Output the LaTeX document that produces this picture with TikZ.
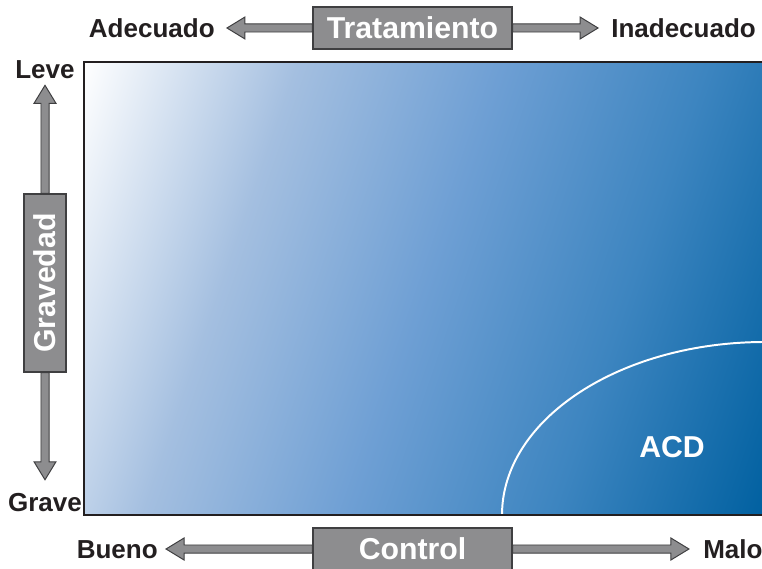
\documentclass[tikz,border=0pt]{standalone}
\usepackage{fontspec}
\setmainfont{Liberation Sans}
\usetikzlibrary{calc}
\definecolor{boxgray}{HTML}{8D8D8F}
\definecolor{edgegray}{HTML}{3F3F41}
\definecolor{inkblack}{HTML}{231F20}
\definecolor{bgA}{HTML}{A4BFE0}
\definecolor{bgB}{HTML}{6E9FD4}
\definecolor{bgC}{HTML}{3D85C0}
\definecolor{bgD}{HTML}{0060A0}
\pgfdeclarehorizontalshading{acdfield}{100bp}{color(0bp)=(white); color(18.3bp)=(white); color(34.5bp)=(bgA); color(50bp)=(bgB); color(65.5bp)=(bgC); color(81.7bp)=(bgD); color(100bp)=(bgD)}
\tikzset{
    axisbox/.style={draw=edgegray, fill=boxgray, line width=0.8pt, text=white, font=\fontsize{21.5}{24}\selectfont\bfseries, minimum width=141.5pt, minimum height=29.9pt, inner sep=0pt},
    axislabel/.style={text=inkblack, font=\fontsize{18.5}{22}\selectfont\bfseries, inner sep=0pt, text height=13.2pt, text depth=0pt},
    fatarrow/.style={draw=edgegray, fill=boxgray, line width=0.7pt, line join=miter}
}

\begin{document}
\begin{tikzpicture}[x=0.025cm, y=-0.025cm]
\def\shaft{2.85pt}   % half width of shaft
\def\head{7.8pt}     % half width of head
\def\headlen{12.8pt} % length of head
\def\fatarrow#1#2#3{% from, to, gap
\coordinate (fa tip) at ($(#2)!#3!(#1)$);
\coordinate (fa neck) at ($(fa tip)!\headlen!(#1)$);
\draw[fatarrow] ($(#1)!\shaft!90:(fa tip)$) -- ($(fa neck)!\shaft!90:(fa tip)$) -- ($(fa neck)!\head!90:(fa tip)$) -- (fa tip) -- ($(fa neck)!\head!-90:(fa tip)$) -- ($(fa neck)!\shaft!-90:(fa tip)$) -- ($(#1)!\shaft!-90:(fa tip)$) -- cycle;
}
\useasboundingbox (0,0) rectangle (762,569);
% field
\shade[shading=acdfield, shading angle=-19] (84,62) rectangle (766,515);
\begin{scope}
\clip (84,62) rectangle (766,515);
\draw[white, line width=1.4pt] (765,515) ellipse [x radius=263, y radius=173];
\end{scope}
\draw[inkblack, line width=1.6pt] (84,62) rectangle (766,515);
\node[text=white, font=\fontsize{21.5}{24}\selectfont\bfseries] (acd) at (672,447) {ACD};
% axis boxes
\node[axisbox] (trat) at (412.5,28) {Tratamiento};
\node[axisbox] (ctrl) at (412.5,549) {Control};
\node[axisbox, rotate=90, minimum width=126.6pt] (grav) at (45,283) {Gravedad};
% end labels
\node[axislabel, anchor=east] (adec) at (215,28) {Adecuado};
\node[axislabel, anchor=west] (inadec) at (611,28) {Inadecuado};
\node[axislabel] (leve) at (45,69) {Leve};
\node[axislabel] (grave) at (45,502) {Grave};
\node[axislabel, anchor=east] (bueno) at (158,549) {Bueno};
\node[axislabel, anchor=west] (malo) at (703,549) {Malo};
% arrows
\fatarrow{trat.west}{adec.east}{8.5pt}
\fatarrow{trat.east}{inadec.west}{9.2pt}
\fatarrow{grav.east}{leve.south}{4.8pt}
\fatarrow{grav.west}{grave.north}{9pt}
\fatarrow{ctrl.west}{bueno.east}{5.7pt}
\fatarrow{ctrl.east}{malo.west}{10pt}
\end{tikzpicture}
\end{document}
